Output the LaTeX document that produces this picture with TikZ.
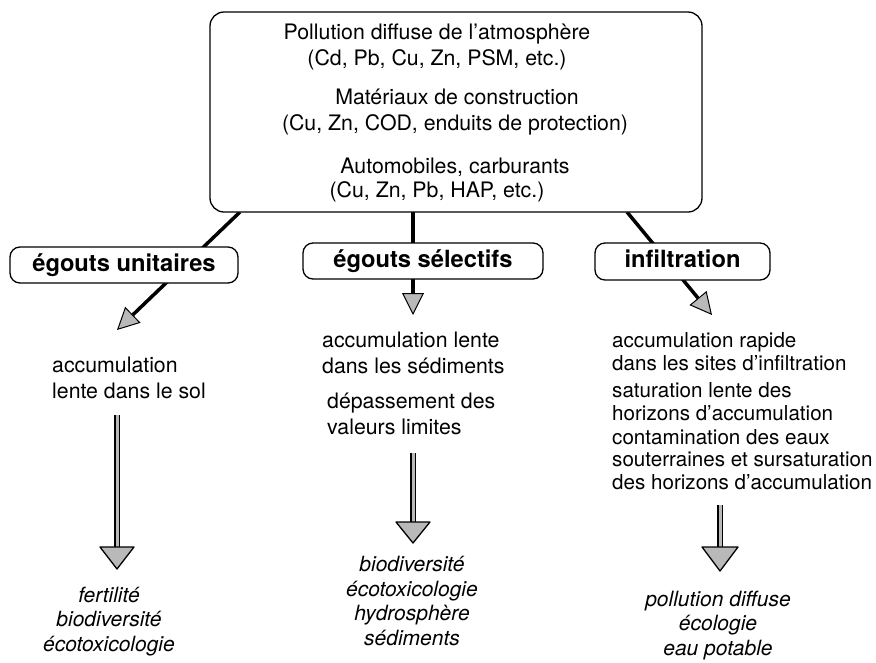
\documentclass[tikz,border=0pt]{standalone}
\usepackage{fontspec}
\setmainfont{TeX Gyre Heros}
\usetikzlibrary{arrows.meta}
\pgfdeclarelayer{back}
\pgfdeclarelayer{bg}
\pgfsetlayers{back,bg,main}
\begin{document}
\begin{tikzpicture}[x=1pt,y=-1pt,
  txt/.style={font=\fontsize{21.3}{26}\selectfont, inner sep=0pt},
  txtr/.style={font=\fontsize{20.6}{22.5}\selectfont, inner sep=0pt, align=left},
  ital/.style={font=\fontsize{21}{24.5}\selectfont\itshape, inner sep=0pt, align=center},
  srcbox/.style={draw, line width=1.3pt, rounded corners=14pt, fill=white, inner sep=0pt},
  lbl/.style={draw, line width=1.3pt, rounded corners=10pt, fill=white, inner sep=0pt,
    font=\fontsize{23.7}{26}\selectfont\bfseries, text height=17pt, text depth=5pt},
  conn/.style={line width=3.5pt, -{Triangle[width=22pt,length=22pt,fill=gray!55,line width'=1pt]}},
  shaft/.style={double=gray!55, double distance=3pt, line width=1.7pt},
  bighead/.style={fill=gray!55, draw=black, line width=1.3pt, line join=round}
]
\useasboundingbox (0,0) rectangle (876,662);
\begin{pgfonlayer}{back}
\fill[white] (0,0) rectangle (876,662);
\end{pgfonlayer}

% source box
\node[srcbox, minimum width=492pt, minimum height=200pt] (src) at (456,112) {};
\node[txt, anchor=base] (s1) at (437,39) {Pollution diffuse de l'atmosphère};
\node[txt, anchor=base] (s2) at (437,65) {(Cd, Pb, Cu, Zn, PSM, etc.)};
\node[txt, anchor=base] (s3) at (457,104) {Matériaux de construction};
\node[txt, anchor=base] (s4) at (455,130) {(Cu, Zn, COD, enduits de protection)};
\node[txt, anchor=base] (s5) at (455,173) {Automobiles, carburants};
\node[txt, anchor=base] (s6) at (437,197) {(Cu, Zn, Pb, HAP, etc.)};

% pathway boxes
\node[lbl, minimum width=228pt, minimum height=36pt] (eu) at (124,265) {égouts unitaires};
\node[lbl, minimum width=240pt, minimum height=36pt] (es) at (423,261) {égouts sélectifs};
\node[lbl, minimum width=175pt, minimum height=37pt] (inf) at (682.5,261.5) {infiltration};

% effect texts (anchor = baseline of last line)
\node[txt, align=left, anchor=base west] (eff1) at (52,398) {accumulation\\lente dans le sol};
\node[txt, align=left, anchor=base west] (eff2a) at (322,373) {accumulation lente\\dans les sédiments};
\node[txt, align=left, anchor=base west] (eff2b) at (327,434) {dépassement des\\valeurs limites};
\node[txtr, anchor=base west] (eff3a) at (612,370) {accumulation rapide\\dans les sites d'infiltration};
\node[txtr, anchor=base west] (eff3b) at (612,420) {saturation lente des\\horizons d'accumulation};
\node[txtr, anchor=base west] (eff3c) at (612,489) {contamination des eaux\\souterraines et sursaturation\\des horizons d'accumulation};

% consequences
\node[ital, anchor=base] (c1) at (109,651) {fertilité\\biodiversité\\écotoxicologie};
\node[ital, anchor=base] (c2) at (412,645) {biodiversité\\écotoxicologie\\hydrosphère\\sédiments};
\node[ital, anchor=base] (c3) at (718,655) {pollution diffuse\\écologie\\eau potable};

% connector coordinates
\coordinate (l0) at (240,212);
\coordinate (ltip) at (117,330);
\coordinate (m0) at (413,212);
\coordinate (mtip) at (413,315);
\coordinate (r0) at (627,212);
\coordinate (rtip) at (712,315);

\begin{pgfonlayer}{bg}
\draw[conn] (l0) -- (ltip);
\draw[conn] (m0) -- (mtip);
\draw[conn] (r0) -- (rtip);
\end{pgfonlayer}

% big arrows
\coordinate (la) at (117,415); \coordinate (lb) at (117,547); \coordinate (lt) at (117,569);
\coordinate (ma) at (413,453); \coordinate (mb) at (413,522); \coordinate (mt) at (413,543);
\coordinate (ra) at (720,505); \coordinate (rb) at (720,547); \coordinate (rt) at (720,571);
\draw[shaft] (la) -- (lb);
\draw[shaft] (ma) -- (mb);
\draw[shaft] (ra) -- (rb);
\draw[bighead] (lt) -- ++(-17,-22) -- ++(34,0) -- cycle;
\draw[bighead] (mt) -- ++(-17,-21) -- ++(34,0) -- cycle;
\draw[bighead] (rt) -- ++(-18,-24) -- ++(36,0) -- cycle;
\end{tikzpicture}
\end{document}
